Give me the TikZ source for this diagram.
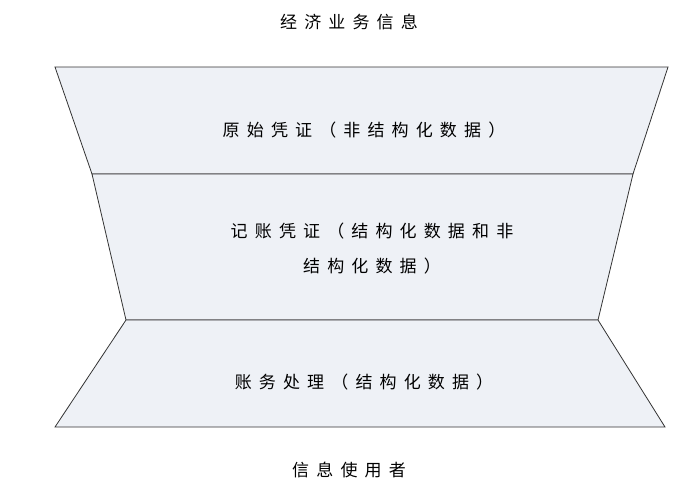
\documentclass[tikz,border=0pt]{standalone}
\usepackage{fontspec}
\newfontfamily\cjk[LetterSpace=42]{Noto Sans CJK SC}
\definecolor{layerfill}{RGB}{238,241,246}
\begin{document}
\begin{tikzpicture}[x=1pt,y=-1pt]
  \tikzset{layer/.style = {draw=black!80,fill=layerfill,line width=0.8pt}}
  \tikzset{label/.style = {font=\cjk\fontsize{17}{35}\selectfont,align=center}}
  \useasboundingbox (0,0) rectangle (698,499);

  \draw[layer] (55,67) -- (668,67) -- (633,174) -- (92,174) -- cycle;
  \draw[layer] (92,174) -- (633,174) -- (598,320) -- (126,320) -- cycle;
  \draw[layer] (126,320) -- (598,320) -- (665,427) -- (55,427) -- cycle;

  \node[label] (info)  at (349,22)  {经济业务信息};
  \node[label] (orig)  at (364,130) {原始凭证（非结构化数据）};
  \node[label] (acct)  at (372,249) {记账凭证（结构化数据和非\\结构化数据）};
  \node[label] (proc)  at (364,382) {账务处理（结构化数据）};
  \node[label] (user)  at (349,470) {信息使用者};
\end{tikzpicture}
\end{document}
